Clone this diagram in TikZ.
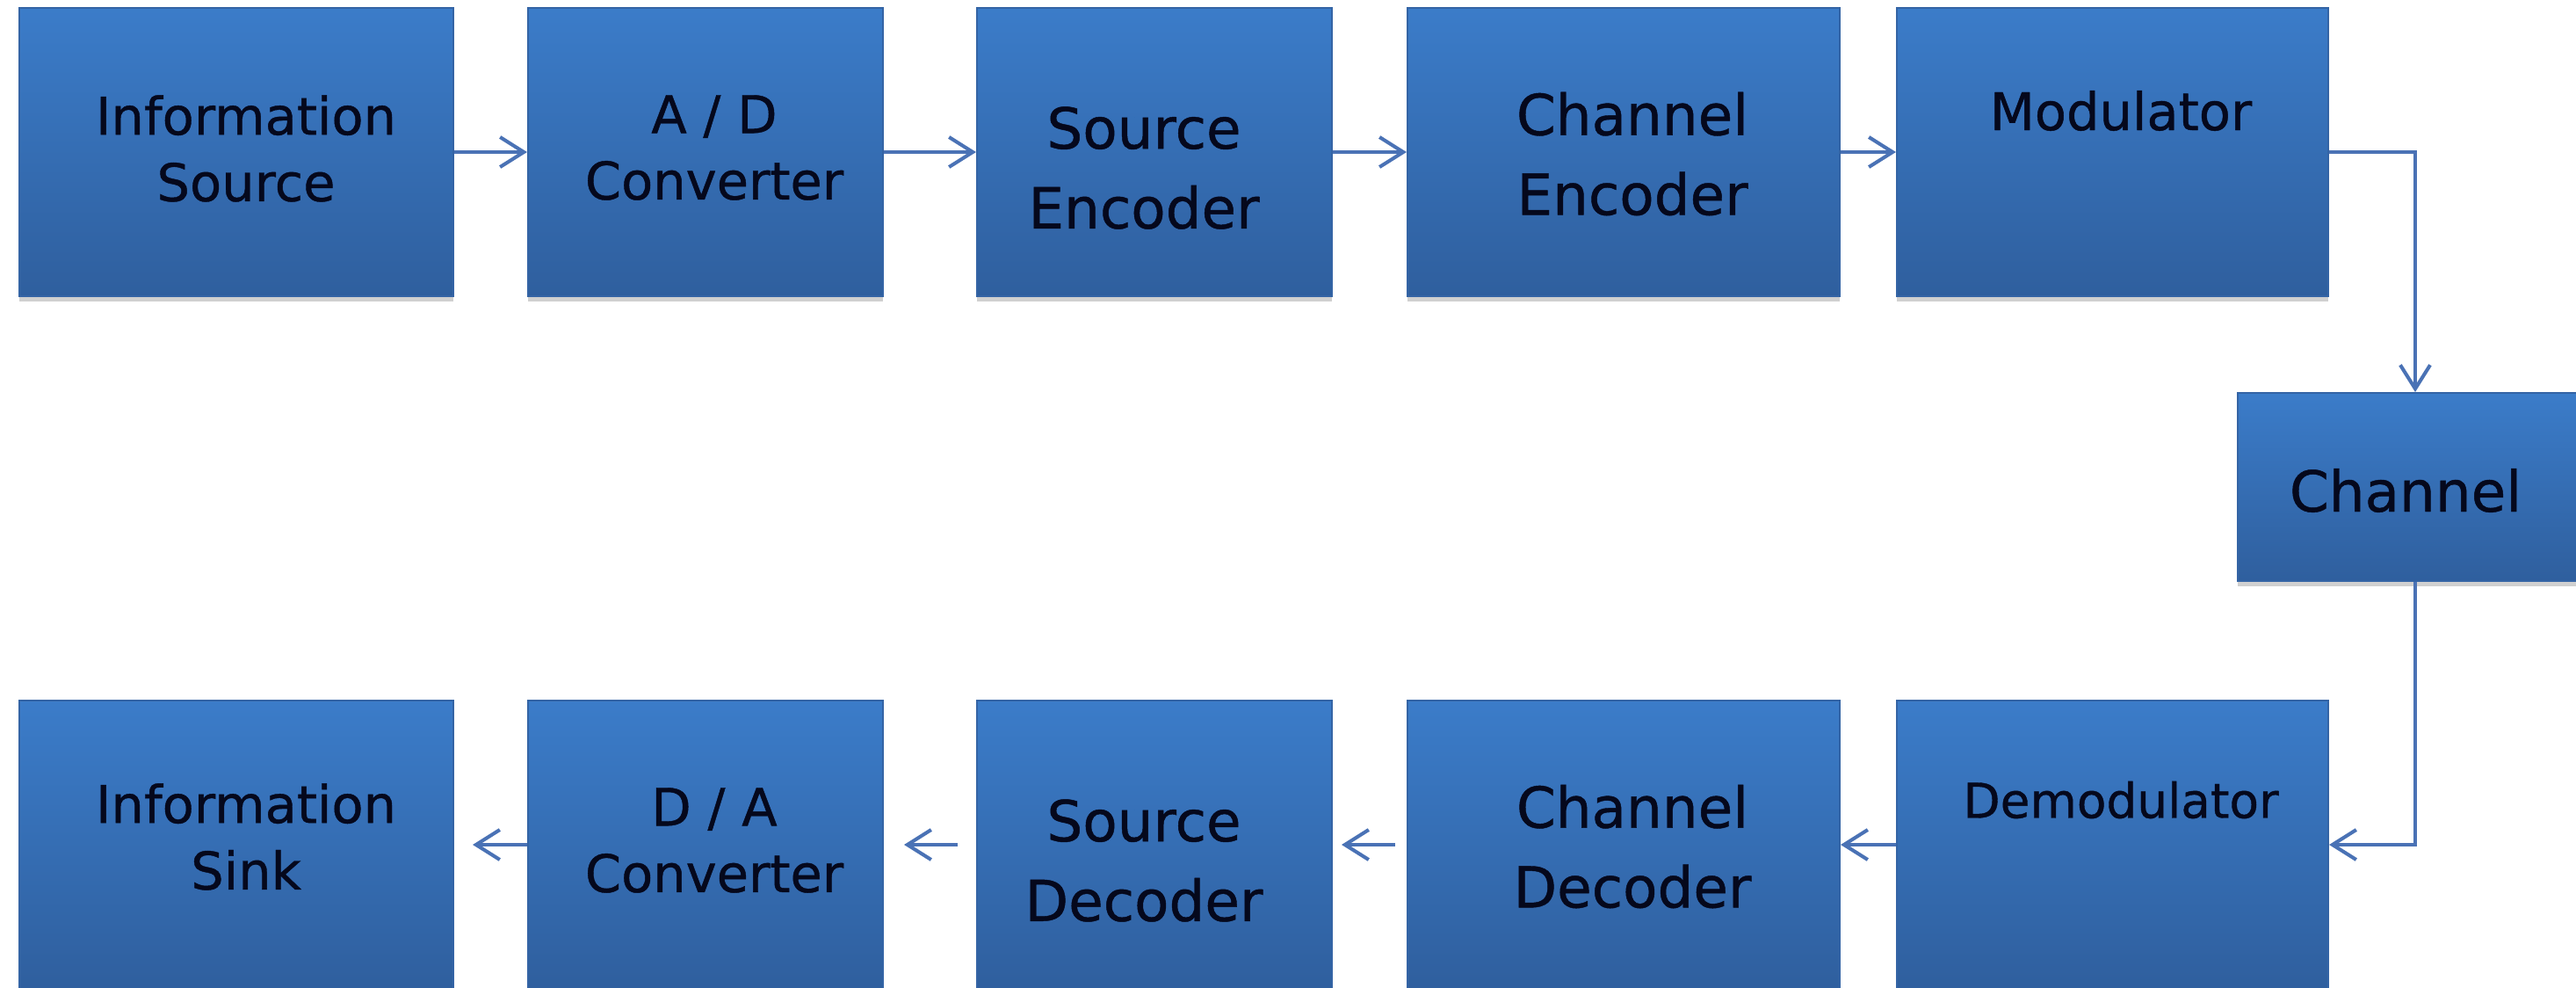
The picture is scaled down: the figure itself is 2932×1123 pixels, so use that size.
\documentclass[tikz,border=0pt]{standalone}
\usepackage{fontspec}
\setmainfont{DejaVu Sans}
\newfontfamily\lblfont{DejaVu Sans}[FakeBold=0.7]
\usetikzlibrary{arrows.meta,shadows}
\definecolor{boxtop}{RGB}{59,124,201}
\definecolor{boxbot}{RGB}{47,95,158}
\definecolor{boxedge}{RGB}{52,100,165}
\definecolor{conncol}{RGB}{74,114,181}
\definecolor{txt}{RGB}{5,8,28}
\tikzset{
 blk/.style={rectangle, inner sep=0pt, minimum height=3.28cm, top color=boxtop, bottom color=boxbot, draw=boxedge, line width=0.5pt,
   drop shadow={shadow xshift=0pt, shadow yshift=-0.06cm, opacity=0.3, fill=black!60}},
 lblA/.style={text=txt, align=center, font=\lblfont\fontsize{16.8}{21.5}\selectfont, inner sep=0pt},
 lblB/.style={text=txt, align=center, font=\lblfont\fontsize{18.3}{25.8}\selectfont, inner sep=0pt},
 flow/.style={draw=conncol, line width=1.15pt, -{Straight Barb[length=0.27cm, width=0.34cm, line width=1.15pt]}}
}
\begin{document}
\begin{tikzpicture}[x=0.01cm, y=-0.01cm]
\useasboundingbox (0,0) rectangle (2932,1123);
\fill[white] (0,0) rectangle (2932,1123);
\clip (0,0) rectangle (2932,1123);
% top row
\node[blk, minimum width=4.94cm] (is) at (269,173) {};
\node[blk, minimum width=4.04cm] (ad) at (803,173) {};
\node[blk, minimum width=4.04cm] (se) at (1314,173) {};
\node[blk, minimum width=4.92cm] (ce) at (1848,173) {};
\node[blk, minimum width=4.91cm] (mod) at (2404.5,173) {};
% channel
\node[blk, minimum width=4.04cm, minimum height=2.14cm] (ch) at (2749,554) {};
% bottom row
\node[blk, minimum width=4.94cm] (sk) at (269,961) {};
\node[blk, minimum width=4.04cm] (da) at (803,961) {};
\node[blk, minimum width=4.04cm] (sd) at (1314,961) {};
\node[blk, minimum width=4.92cm] (cd) at (1848,961) {};
\node[blk, minimum width=4.91cm] (dm) at (2404.5,961) {};
% labels
\node[lblA] (tis) at (280,169) {Information\\Source};
\node[lblA] (tad) at (813,168) {A / D\\Converter};
\node[lblB] (tse) at (1302,191) {Source\\Encoder};
\node[lblB] (tce) at (1858,175) {Channel\\Encoder};
\node[lblA] (tmod) at (2414,126) {Modulator};
\node[lblB] (tch) at (2738,558) {Channel};
\node[lblA] (tsk) at (280,952) {Information\\Sink};
\node[lblA] (tda) at (813,956) {D / A\\Converter};
\node[lblB] (tsd) at (1302,979) {Source\\Decoder};
\node[lblB] (tcd) at (1858,963) {Channel\\Decoder};
\node[lblA, font=\lblfont\fontsize{15.6}{20}\selectfont] (tdm) at (2414,910) {Demodulator};
% connectors
\draw[flow] (is) -- (ad);
\draw[flow] (ad) -- (se);
\draw[flow] (se) -- (ce);
\draw[flow] (ce) -- (mod);
\draw[flow] (mod.east) -| (ch.north);
\draw[flow] (ch.south) |- (dm.east);
\draw[flow] (dm) -- (cd);
\draw[flow, shorten <=0.13cm, shorten >=0.10cm] (cd) -- (sd);
\draw[flow, shorten <=0.21cm, shorten >=0.23cm] (sd) -- (da);
\draw[flow, shorten >=0.21cm] (da) -- (sk);
\end{tikzpicture}
\end{document}
